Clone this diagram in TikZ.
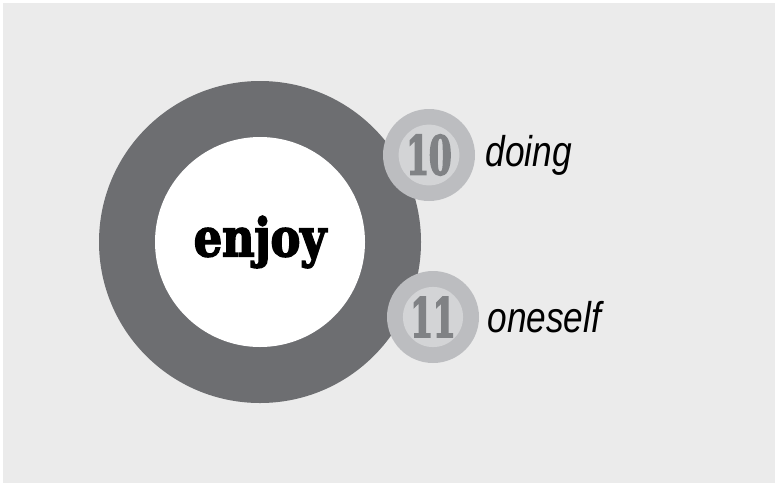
\documentclass[tikz,border=0pt]{standalone}
\usepackage{fontspec}
\usetikzlibrary{positioning}
\newfontfamily\slabfont{DejaVu Serif}[UprightFont=* Bold, FakeStretch=0.84, FakeBold=3]
\newfontfamily\numfont{DejaVu Serif}[UprightFont=* Bold, FakeStretch=0.6, FakeBold=3]
\newfontfamily\wordfont{Liberation Sans}[FakeStretch=0.82]
\definecolor{paper}{HTML}{EBEBEB}
\definecolor{ringdark}{HTML}{6D6E71}
\definecolor{ringlight}{HTML}{BCBDC0}
\definecolor{corelight}{HTML}{D3D4D6}
\definecolor{numgray}{HTML}{808285}

\begin{document}
\begin{tikzpicture}[x=1pt, y=-1pt,
  bigring/.style={circle, fill=ringdark, minimum size=322pt, inner sep=0pt},
  bigcore/.style={circle, fill=white, minimum size=210pt, inner sep=0pt,
    font=\slabfont\fontsize{53}{53}\selectfont},
  smallring/.style={circle, fill=ringlight, minimum size=92pt, inner sep=0pt},
  smallcore/.style={circle, fill=corelight, minimum size=50pt, inner sep=0pt,
    text=numgray, font=\numfont\fontsize{54}{54}\selectfont},
  word/.style={font=\wordfont\itshape\fontsize{43}{43}\selectfont, inner sep=0pt}]
\useasboundingbox (0,0) rectangle (775,483);
% paper
\fill[white] (0,0) rectangle (775,483);
\fill[paper] (3,3) rectangle (775,483);
% big ring
\node[bigring] (ring) at (260,242) {};
\node[bigcore] (enjoy) at (ring) {enjoy};
% small rings
\node[smallring] (r10) at (429,155) {};
\node[smallcore] (n10) at (r10) {10};
\node[smallring] (r11) at (433,317) {};
\node[smallcore] (n11) at (r11) {11};
% words
\node[word, right=10pt of r10] (doing) {doing};
\node[word, right=8pt of r11] (oneself) {oneself};
\end{tikzpicture}
\end{document}
